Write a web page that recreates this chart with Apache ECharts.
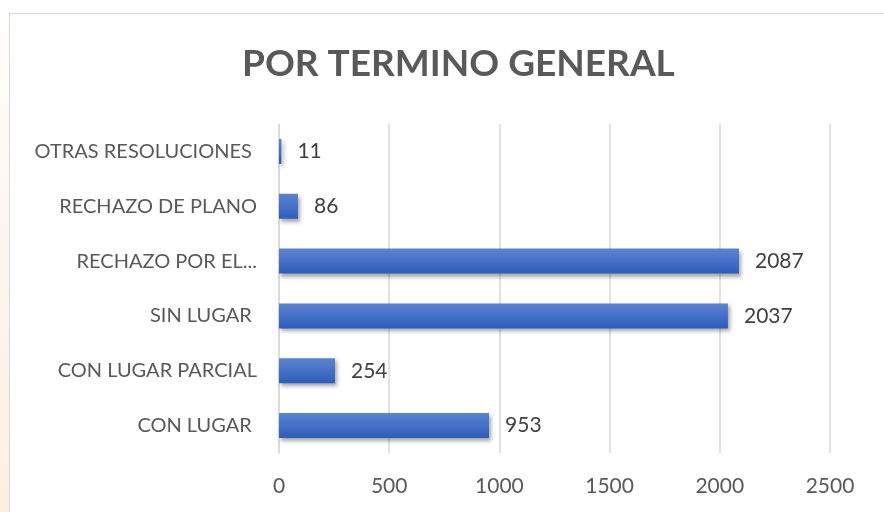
<!DOCTYPE html>
<html>
<head>
<meta charset="utf-8">
<script src="https://cdn.jsdelivr.net/npm/echarts@6/dist/echarts.min.js"></script>
<style>
html, body { margin: 0; padding: 0; background: #fff; }
.page { position: relative; width: 884px; height: 512px; overflow: hidden; }
.side { position: absolute; left: 0; top: 0; width: 9px; height: 512px;
  background: linear-gradient(to bottom, #ffffff 0%, #fdf7f0 40%, #fcefe0 100%); }
.frame { position: absolute; left: 9px; top: 13px; width: 880px; height: 505px;
  border: 1px solid #d9d9d9; box-sizing: border-box; }
#chart { position: absolute; left: 0; top: 0; width: 884px; height: 512px; }
</style>
</head>
<body>
<div class="page">
  <div class="side"></div>
  <div class="frame"></div>
  <div id="chart"></div>
</div>
<script>
const categories = ['CON LUGAR ', 'CON LUGAR PARCIAL', 'SIN LUGAR ', 'RECHAZO POR EL...', 'RECHAZO DE PLANO', 'OTRAS RESOLUCIONES '];
const values = [953, 254, 2037, 2087, 86, 11];
const xTicks = [0, 500, 1000, 1500, 2000, 2500];

const font = 'Lato, "Open Sans", sans-serif';
const chart = echarts.init(document.getElementById('chart'), null, { renderer: 'canvas' });

const option = {
  animation: false,
  title: {
    text: 'POR TERMINO GENERAL',
    left: 237,
    top: 41,
    textStyle: { color: '#595959', fontSize: 37, fontWeight: 'bold', fontFamily: font }
  },
  grid: { left: 279, right: 54, top: 124, bottom: 59, containLabel: false },
  xAxis: {
    type: 'value',
    min: xTicks[0],
    max: xTicks[xTicks.length - 1],
    interval: 500,
    axisLine: { show: false },
    axisTick: { show: false },
    splitLine: { lineStyle: { color: '#d9d9d9', width: 1.5 } },
    axisLabel: {
      color: '#595959', fontSize: 21, fontFamily: font, margin: 23,
      formatter: v => String(v)
    }
  },
  yAxis: {
    type: 'category',
    data: categories,
    axisLine: { show: true, lineStyle: { color: '#d9d9d9', width: 1.5 } },
    axisTick: { show: false },
    axisLabel: { color: '#595959', fontSize: 20, fontFamily: font, margin: 22 }
  },
  series: [{
    type: 'bar',
    data: values,
    barWidth: 25,
    itemStyle: {
      color: new echarts.graphic.LinearGradient(0, 0, 0, 1, [
        { offset: 0, color: '#5b83d2' },
        { offset: 1, color: '#2d5dbb' }
      ]),
      shadowColor: 'rgba(0,0,0,0.35)',
      shadowBlur: 4,
      shadowOffsetX: 2,
      shadowOffsetY: 3
    },
    label: {
      show: true,
      position: 'right',
      distance: 16,
      color: '#404040',
      fontSize: 21,
      fontFamily: font
    }
  }]
};

chart.setOption(option);
</script>
</body>
</html>
